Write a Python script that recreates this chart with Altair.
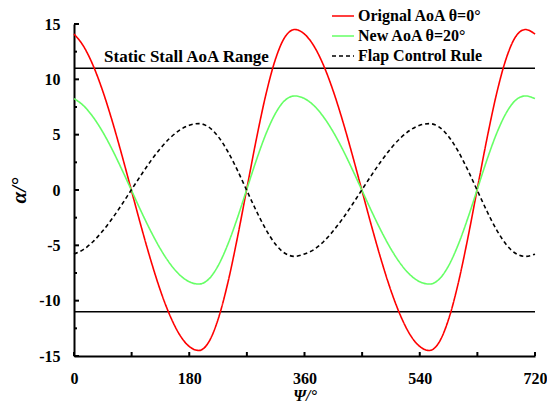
import altair as alt
import pandas as pd

# ---- data ----
psi = [0, 15, 30, 45, 60, 75, 90, 105, 120, 135, 150, 165, 180, 195, 210, 225, 240, 255,
       270, 285, 300, 315, 330, 345, 360, 375, 390, 405, 420, 435, 450, 465, 480, 495,
       510, 525, 540, 555, 570, 585, 600, 615, 630, 645, 660, 675, 690, 705, 720]

red = [14.09, 12.98, 11.23, 8.92, 6.17, 3.11, -0.11, -3.32, -6.36, -9.09, -11.36, -13.08,
       -14.14, -14.5, -13.78, -11.69, -8.45, -4.37, 0.15, 4.65, 8.70, 11.88, 13.87, 14.5,
       14.09, 12.98, 11.23, 8.92, 6.17, 3.11, -0.11, -3.32, -6.36, -9.09, -11.36, -13.08,
       -14.14, -14.5, -13.78, -11.69, -8.45, -4.37, 0.15, 4.65, 8.70, 11.88, 13.87, 14.5,
       14.09]

green = [8.26, 7.61, 6.58, 5.23, 3.62, 1.82, -0.06, -1.95, -3.73, -5.33, -6.66, -7.67,
         -8.29, -8.5, -8.08, -6.85, -4.95, -2.56, 0.09, 2.73, 5.10, 6.96, 8.13, 8.5,
         8.26, 7.61, 6.58, 5.23, 3.62, 1.82, -0.06, -1.95, -3.73, -5.33, -6.66, -7.67,
         -8.29, -8.5, -8.08, -6.85, -4.95, -2.56, 0.09, 2.73, 5.10, 6.96, 8.13, 8.5,
         8.26]

flap = [-5.78, -5.37, -4.65, -3.69, -2.55, -1.29, 0.05, 1.37, 2.63, 3.76, 4.70, 5.41,
        5.85, 6.0, 5.70, 4.84, 3.50, 1.81, -0.06, -1.92, -3.60, -4.92, -5.74, -6.0,
        -5.78, -5.37, -4.65, -3.69, -2.55, -1.29, 0.05, 1.37, 2.63, 3.76, 4.70, 5.41,
        5.85, 6.0, 5.70, 4.84, 3.50, 1.81, -0.06, -1.92, -3.60, -4.92, -5.74, -6.0,
        -5.80]

series_names = ["Orignal AoA θ=0°", "New AoA θ=20°", "Flap Control Rule"]
series_colors = ["#FF0000", "#66FF66", "#000000"]
series_dash = [[1, 0], [1, 0], [4, 3]]

stall_limits = [11, -11]
stall_label = ["Static Stall AoA Range"]
stall_label_pos = [47, 11.6]

x_major = [0, 180, 360, 540, 720]
x_ticks = [0, 90, 180, 270, 360, 450, 540, 630, 720]
y_major = [-15, -10, -5, 0, 5, 10, 15]
y_minor = [-12.5, -7.5, -2.5, 2.5, 7.5, 12.5]

FONT = "Liberation Serif"
W, H = 461, 332

rows = []
for name, vals in zip(series_names, [red, green, flap]):
    for p, v in zip(psi, vals):
        rows.append({"series": name, "psi": p, "alpha": v})
df = pd.DataFrame(rows)

xs = alt.Scale(domain=[0, 720], nice=False)
ys = alt.Scale(domain=[-15, 15], nice=False)

x_axis = alt.Axis(values=x_major, title="Ψ/°", labelExpr="'' + datum.value",
                  grid=False, ticks=False, tickSize=0, domainColor="black", domainWidth=2,
                  labelFlush=False,
                  labelFont=FONT, labelFontSize=16, labelFontWeight="bold", labelColor="black",
                  labelPadding=14, titleFont=FONT, titleFontSize=16, titleFontWeight="bold",
                  titleFontStyle="italic", titleColor="black",
                  titleBaseline="alphabetic", titleY=44)
y_axis = alt.Axis(values=y_major, title="α/°", labelExpr="'' + datum.value",
                  grid=False, ticks=False, tickSize=0, domainColor="black", domainWidth=2,
                  labelFlush=False,
                  labelFont=FONT, labelFontSize=16, labelFontWeight="bold", labelColor="black",
                  labelPadding=14, titleFont=FONT, titleFontSize=21, titleFontWeight="bold",
                  titleFontStyle="italic", titleColor="black", titlePadding=9)

legend = alt.Legend(title=None, orient="none", legendX=257, legendY=-20,
                    symbolType="stroke", symbolSize=484, symbolStrokeWidth=1.6,
                    labelFont=FONT, labelFontSize=16, labelFontWeight="bold",
                    labelColor="black", labelOffset=3, rowPadding=-2)

lines = alt.Chart(df).mark_line(strokeWidth=1.6, interpolate="monotone").encode(
    x=alt.X("psi:Q", scale=xs, axis=x_axis),
    y=alt.Y("alpha:Q", scale=ys, axis=y_axis),
    color=alt.Color("series:N", scale=alt.Scale(domain=series_names, range=series_colors),
                    legend=legend),
    strokeDash=alt.StrokeDash("series:N", scale=alt.Scale(domain=series_names, range=series_dash),
                              legend=legend),
    order=alt.Order("psi:Q"),
)

stall = alt.Chart(pd.DataFrame({"v": stall_limits})).mark_rule(color="black", strokeWidth=1.3).encode(
    y=alt.Y("v:Q", scale=ys))

label = alt.Chart(pd.DataFrame({"t": stall_label, "x": [stall_label_pos[0]], "y": [stall_label_pos[1]]})).mark_text(
    align="left", baseline="alphabetic", font=FONT, fontSize=17, fontWeight="bold", color="black"
).encode(x=alt.X("x:Q", scale=xs), y=alt.Y("y:Q", scale=ys), text="t:N")

ytick_major = alt.Chart(pd.DataFrame({"v": y_major})).mark_rule(color="black", strokeWidth=2).encode(
    y=alt.Y("v:Q", scale=ys), x=alt.value(0), x2=alt.value(5))
ytick_minor = alt.Chart(pd.DataFrame({"v": y_minor})).mark_rule(color="black", strokeWidth=2).encode(
    y=alt.Y("v:Q", scale=ys), x=alt.value(0), x2=alt.value(3))
xtick = alt.Chart(pd.DataFrame({"v": x_ticks})).mark_rule(color="black", strokeWidth=2).encode(
    x=alt.X("v:Q", scale=xs), y=alt.value(H), y2=alt.value(H - 4))

chart = alt.layer(stall, label, lines, ytick_major, ytick_minor, xtick).properties(
    width=W, height=H,
    autosize=alt.AutoSizeParams(type="none"),
    padding={"left": 74, "top": 24, "right": 12, "bottom": 46},
    background="white",
).configure_view(stroke=None)

chart.save("out.html", embed_options={"renderer": "svg", "actions": False})
